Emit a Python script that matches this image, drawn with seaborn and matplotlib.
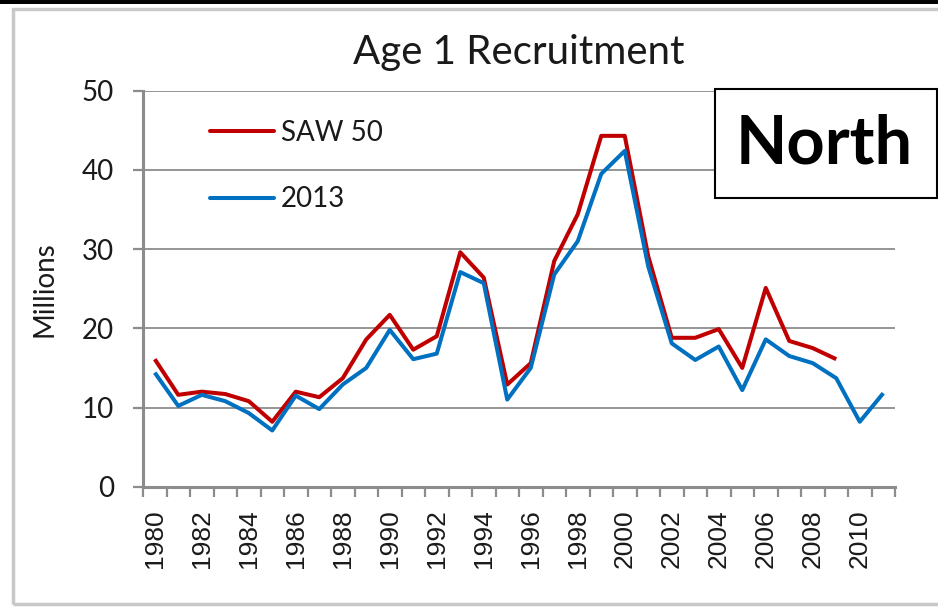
import matplotlib
matplotlib.use("Agg")
import matplotlib.pyplot as plt
from matplotlib.patches import Rectangle
from matplotlib.ticker import FixedLocator
import numpy as np
import pandas as pd
import seaborn as sns

years = list(range(1980, 2012))
saw50 = [16.1, 11.6, 12.0, 11.7, 10.8, 8.2, 12.0, 11.3, 13.7, 18.6, 21.7, 17.3,
         19.0, 29.6, 26.4, 12.9, 15.6, 28.5, 34.4, 44.3, 44.3, 29.1, 18.8, 18.8,
         19.9, 15.0, 25.1, 18.4, 17.5, 16.1]
v2013 = [14.4, 10.2, 11.6, 10.8, 9.3, 7.1, 11.5, 9.8, 12.9, 15.0, 19.8, 16.1,
         16.8, 27.1, 25.7, 11.0, 15.0, 26.8, 31.0, 39.5, 42.4, 27.8, 18.1, 16.0,
         17.7, 12.2, 18.6, 16.5, 15.6, 13.7, 8.2, 11.8]
series_names = ["SAW 50", "2013"]
colors = {"SAW 50": "#C00000", "2013": "#0070C0"}
y_ticks = [0, 10, 20, 30, 40, 50]
x_label_years = list(range(1980, 2012, 2))

df = pd.concat([
    pd.DataFrame({"Year": years[:len(saw50)], "Value": saw50, "Series": "SAW 50"}),
    pd.DataFrame({"Year": years, "Value": v2013, "Series": "2013"}),
], ignore_index=True)

sns.set_style("white")
plt.rcParams["font.family"] = ["Lato", "DejaVu Sans"]
text_c = "#1A1A1A"

W, H = 938, 607
fig = plt.figure(figsize=(W / 100, H / 100), dpi=100)
ax = fig.add_axes([143 / W, 1 - 486.7 / H, (895 - 143) / W, (486.7 - 90.7) / H])

sns.lineplot(data=df, x="Year", y="Value", hue="Series", hue_order=series_names,
             palette=colors, linewidth=2.9, ax=ax, legend=False)
for ln in ax.get_lines():
    ln.set_solid_joinstyle("round")
    ln.set_solid_capstyle("butt")

grid_c = "#8C8C8C"
ax.set_xlim(1979.5, 2011.5)
ax.set_ylim(0, 50)
ax.set_yticks(y_ticks)
ax.yaxis.grid(True, color=grid_c, linewidth=1.3)
ax.set_axisbelow(True)
for s in ["top", "right"]:
    ax.spines[s].set_visible(False)
for s in ["left", "bottom"]:
    ax.spines[s].set_color(grid_c)
    ax.spines[s].set_linewidth(2.2)

ax.set_xticks(x_label_years)
ax.set_xticklabels([str(y) for y in x_label_years], rotation=90,
                   fontfamily="Liberation Sans", fontsize=19, color=text_c)
ax.xaxis.set_minor_locator(FixedLocator(np.arange(1979.5, 2012.0, 1.0)))
ax.tick_params(axis="x", which="major", length=0, pad=16)
ax.tick_params(axis="x", which="minor", length=7, width=1.6, color=grid_c, direction="out")
ax.tick_params(axis="y", which="major", length=7, width=1.6, color=grid_c,
               direction="out", labelsize=20, pad=14, labelcolor=text_c)
ax.tick_params(axis="x", bottom=True, which="both")
ax.tick_params(axis="y", left=True)

ax.set_xlabel("")
ax.set_ylabel("Millions", fontsize=20, labelpad=17, color=text_c)
ax.set_title("Age 1 Recruitment", fontsize=29, pad=19, color=text_c)

handles = [plt.Line2D([], [], color=colors[n], linewidth=2.9) for n in series_names]
leg = ax.legend(handles, series_names, loc="upper left", bbox_to_anchor=(0.089, 0.927),
                frameon=False, fontsize=20, handlelength=2.3, handletextpad=0.25,
                labelspacing=1.47, borderpad=0, borderaxespad=0)
for t in leg.get_texts():
    t.set_color(text_c)

# outer chart frame decorations
fig.patches.append(Rectangle((0, 1 - 4 / H), 1, 4 / H, transform=fig.transFigure,
                             facecolor="black", edgecolor="none"))
fig.patches.append(Rectangle((13 / W, 3 / H), 1.1, 1 - 12 / H, transform=fig.transFigure,
                             facecolor="none", edgecolor="#C8C8C8", linewidth=2.5))

# "North" box
fig.patches.append(Rectangle((715 / W, 1 - 198 / H), (937 - 715) / W, (198 - 89) / H,
                             transform=fig.transFigure, facecolor="white",
                             edgecolor="black", linewidth=1.5, zorder=5))
fig.text(824 / W, 1 - 145 / H, "North", fontsize=48, fontweight="bold",
         ha="center", va="center", zorder=6, color="black")

fig.savefig("out.png", dpi=100)
